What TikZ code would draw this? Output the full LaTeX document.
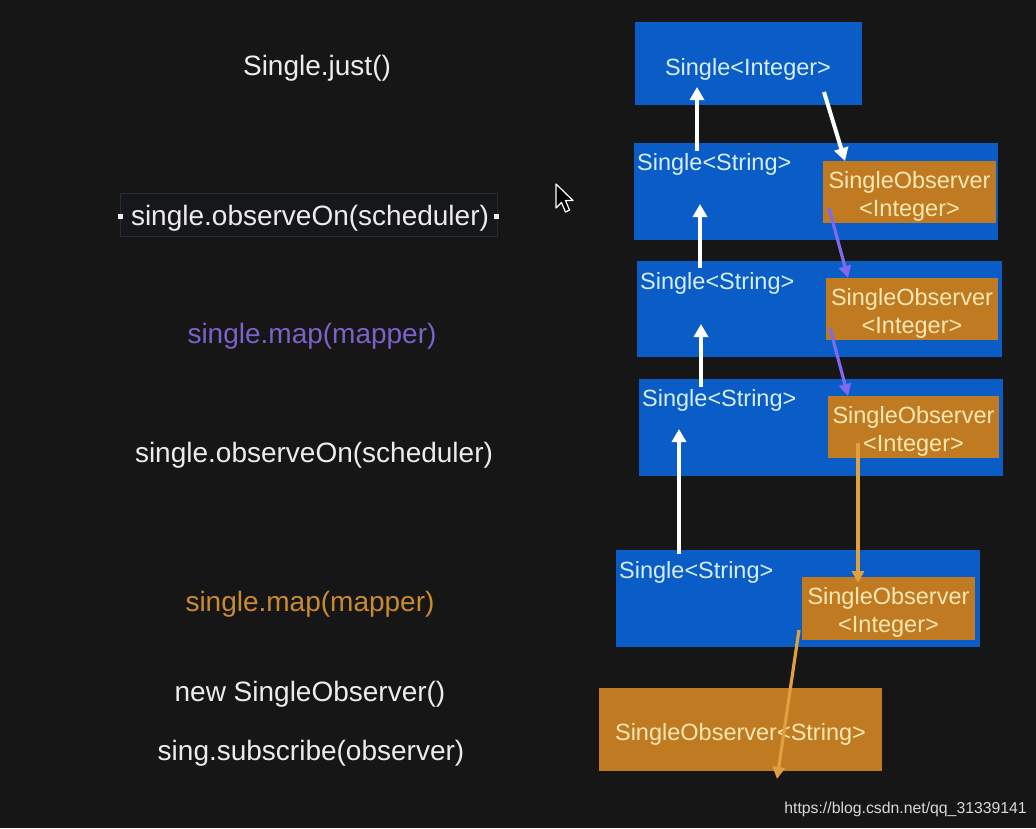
\documentclass[tikz,border=0pt]{standalone}
\usepackage{fontspec}
\setmainfont{Liberation Sans}
\usetikzlibrary{arrows.meta}
\definecolor{bg}{HTML}{161616}
\definecolor{bluebox}{HTML}{0A5CC6}
\definecolor{orangebox}{HTML}{BF7A22}
\definecolor{bluetxt}{HTML}{D6EEFF}
\definecolor{orangetxt}{HTML}{FBE8B2}
\definecolor{whitetxt}{HTML}{ECECEC}
\definecolor{purpletxt}{HTML}{7B62C8}
\definecolor{orangetext}{HTML}{C98A30}
\definecolor{purplearrow}{HTML}{7E6AEA}
\definecolor{orangearrow}{HTML}{E0A040}
\definecolor{selfill}{HTML}{15171B}
\definecolor{seldraw}{HTML}{262C34}
\tikzset{
  codetxt/.style={font=\fontsize{28}{32}\selectfont, text=whitetxt, inner sep=0pt},
  bluerect/.style={fill=bluebox, draw=none, inner sep=0pt, outer sep=0pt},
  orangerect/.style={fill=orangebox, draw=none, inner sep=0pt, outer sep=0pt},
  orangelabel/.style={text=orangetxt, inner sep=0pt, font=\fontsize{23.5}{28}\selectfont, align=center},
  bluelabel/.style={font=\fontsize{23.5}{28}\selectfont, text=bluetxt, inner sep=0pt, anchor=west},
  whitearrow/.style={draw=white, line width=4pt, -{Triangle[width=14pt,length=13pt]}},
  purplearr/.style={draw=purplearrow, line width=3.2pt, -{Triangle[width=12pt,length=12pt]}},
  orangearr/.style={draw=orangearrow, line width=3.2pt, -{Triangle[width=12pt,length=12pt]}},
}
\begin{document}
\begin{tikzpicture}[x=1pt,y=-1pt]
\fill[bg] (0,0) rectangle (1036,828);
\useasboundingbox (0,0) rectangle (1036,828);

% left code lines
\node[codetxt] (just) at (317,68) {Single.just()};
\filldraw[fill=selfill, draw=seldraw, line width=1pt] (120,193) rectangle (497,236);
\node[codetxt] (obs1) at (310,218) {single.observeOn(scheduler)};
\fill[whitetxt] (118,214) rectangle (123,219);
\fill[whitetxt] (494,214) rectangle (499,219);
\node[codetxt, text=purpletxt] (map1) at (312,336) {single.map(mapper)};
\node[codetxt] (obs2) at (314,455) {single.observeOn(scheduler)};
\node[codetxt, text=orangetext] (map2) at (310,604) {single.map(mapper)};
\node[codetxt] (newobs) at (310,694) {new SingleObserver()};
\node[codetxt] (subs) at (311,753) {sing.subscribe(observer)};

% mouse cursor
\filldraw[fill=black, draw=white, line width=1.2pt, line join=round]
  (556,184) -- (556,208) -- (561.5,202.5) -- (565.5,212) -- (569.5,210) -- (565.5,200.5) -- (573,200.5) -- cycle;

% right boxes
\node[bluerect, minimum width=227pt, minimum height=83pt] (b1) at (748.5,63.5) {};
\node[font=\fontsize{23.5}{28}\selectfont, text=bluetxt, inner sep=0pt] (t1) at (748,69) {Single<Integer>};

\node[bluerect, minimum width=364pt, minimum height=97pt] (b2) at (816,191.5) {};
\node[bluelabel] (s2) at (637,164) {Single<String>};
\node[orangerect, minimum width=173pt, minimum height=62pt] (o2) at (909.5,192) {};
\node[orangelabel] (o2t) at (909.5,196) {SingleObserver\\<Integer>};

\node[bluerect, minimum width=365pt, minimum height=96pt] (b3) at (819.5,309) {};
\node[bluelabel] (s3) at (640,283) {Single<String>};
\node[orangerect, minimum width=172pt, minimum height=62pt] (o3) at (912,309) {};
\node[orangelabel] (o3t) at (912,313) {SingleObserver\\<Integer>};

\node[bluerect, minimum width=364pt, minimum height=97pt] (b4) at (821,427.5) {};
\node[bluelabel] (s4) at (642,400) {Single<String>};
\node[orangerect, minimum width=171pt, minimum height=62pt] (o4) at (913.5,427) {};
\node[orangelabel] (o4t) at (913.5,431) {SingleObserver\\<Integer>};

\node[bluerect, minimum width=364pt, minimum height=97pt] (b5) at (798,598.5) {};
\node[bluelabel] (s5) at (619,572) {Single<String>};
\node[orangerect, minimum width=173pt, minimum height=63pt] (o5) at (888.5,608.5) {};
\node[orangelabel] (o5t) at (888.5,612.5) {SingleObserver\\<Integer>};

\node[orangerect, minimum width=283pt, minimum height=83pt] (o6) at (740.5,729.5) {};
\node[orangelabel] (o6t) at (740.5,734) {SingleObserver<String>};

% arrow end points
\coordinate (a1s) at (697,151);  \coordinate (a1e) at (697,87);
\coordinate (a2s) at (824,92);   \coordinate (a2e) at (845,161);
\coordinate (a3s) at (700,268);  \coordinate (a3e) at (700,204);
\coordinate (a4s) at (829,208);  \coordinate (a4e) at (848,278);
\coordinate (a5s) at (701,387);  \coordinate (a5e) at (701,324);
\coordinate (a6s) at (830,328);  \coordinate (a6e) at (848,396);
\coordinate (a7s) at (679,554);  \coordinate (a7e) at (679,429);
\coordinate (a8s) at (858,443);  \coordinate (a8e) at (858,583);
\coordinate (a9s) at (799,630);  \coordinate (a9e) at (777,779);

\draw[whitearrow] (a1s) -- (a1e);
\draw[whitearrow] (a2s) -- (a2e);
\draw[whitearrow] (a3s) -- (a3e);
\draw[purplearr] (a4s) -- (a4e);
\draw[whitearrow] (a5s) -- (a5e);
\draw[purplearr] (a6s) -- (a6e);
\draw[whitearrow] (a7s) -- (a7e);
\draw[orangearr] (a8s) -- (a8e);
\draw[orangearr] (a9s) -- (a9e);

% watermark
\node[font=\fontsize{15.8}{18}\selectfont, text=white!85!black, anchor=east, inner sep=0pt] (wm) at (1027,809) {https://blog.csdn.net/qq\_31339141};
\end{tikzpicture}
\end{document}
